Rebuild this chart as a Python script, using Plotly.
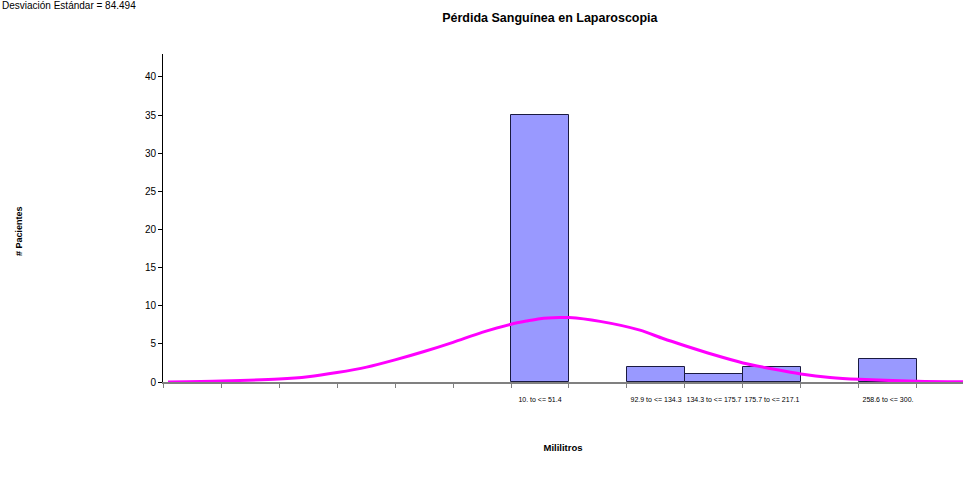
import plotly.graph_objects as go

# Histogram bins (mL) and patient counts
bin_left = [10.0, 51.4, 92.9, 134.3, 175.7, 217.1, 258.6]
bin_width = 41.43
counts = [35, 0, 2, 1, 2, 0, 3]
bin_labels = ["10. to <= 51.4", "", "92.9 to <= 134.3", "134.3 to <= 175.7",
              "175.7 to <= 217.1", "", "258.6 to <= 300."]

# Fitted normal curve (mL, patients)
curve_x = [-235.0, -196.6, -155.7, -135.0, -114.3, -93.1, -72.9, -52.1, -31.4,
           -10.7, 10.0, 21.4, 30.7, 45.0, 51.4, 73.6, 102.1, 118.6, 134.3,
           154.3, 175.7, 197.1, 217.1, 237.9, 258.6, 300.0, 332.9]
curve_y = [0.0, 0.13, 0.4, 0.7, 1.24, 1.95, 2.9, 4.0, 5.2,
           6.5, 7.57, 8.0, 8.3, 8.45, 8.45, 7.95, 6.8, 5.7, 4.75,
           3.6, 2.5, 1.7, 1.06, 0.6, 0.35, 0.1, 0.03]

y_ticks = [0, 5, 10, 15, 20, 25, 30, 35, 40]

# only non-empty bins get a bar
bar_x = [b + bin_width / 2 for b, c in zip(bin_left, counts) if c > 0]
bar_y = [c for c in counts if c > 0]
lab_vals = [b + bin_width / 2 for b, t in zip(bin_left, bin_labels) if t]
lab_text = [t for t in bin_labels if t]

fig = go.Figure()
fig.add_trace(go.Bar(
    x=bar_x, y=bar_y, width=bin_width,
    marker=dict(color="#9999FF", line=dict(color="#1a1a40", width=1)),
    hoverinfo="x+y",
))
fig.add_trace(go.Scatter(
    x=curve_x, y=curve_y, mode="lines",
    line=dict(color="#FF00FF", width=3, shape="spline", smoothing=0.8),
))

fig.update_layout(
    width=963, height=484,
    margin=dict(l=163, r=0, t=54, b=102),
    paper_bgcolor="white", plot_bgcolor="white",
    showlegend=False,
    font=dict(family="Liberation Sans, Arial", color="black", size=10),
    title=dict(text="<b>Pérdida Sanguínea en Laparoscopia</b>",
               x=0.571, xanchor="center", y=0.963, yanchor="middle",
               font=dict(size=12.5)),
    bargap=0,
)
fig.update_xaxes(
    range=[-238.6, 332.9], automargin=False,
    tickvals=lab_vals, ticktext=lab_text,
    tickfont=dict(size=7, color="black"), ticks="outside", ticklen=10,
    tickcolor="rgba(0,0,0,0)",
    minor=dict(tick0=10.0, dtick=bin_width, ticks="outside", ticklen=4,
               tickcolor="#808080", showgrid=False),
    showline=True, linecolor="#808080", linewidth=2,
    showgrid=False, zeroline=False,
    title=dict(text="<b>Mililitros</b>", font=dict(size=9.5), standoff=42),
)
fig.update_yaxes(
    range=[0, 43], tickvals=y_ticks, automargin=False,
    ticks="outside", ticklen=4, tickcolor="black",
    showline=True, linecolor="black", linewidth=1,
    showgrid=False, zeroline=False,
)
fig.add_annotation(
    text="<b># Pacientes</b>", textangle=-90,
    xref="paper", yref="paper", x=-0.18, y=0.46,
    xanchor="center", yanchor="middle", showarrow=False,
    font=dict(size=9),
)
fig.add_annotation(
    text="Desviación Estándar = 84.494",
    xref="paper", yref="paper", x=-0.2038, y=1.149,
    xanchor="left", yanchor="middle", showarrow=False,
    font=dict(size=10),
)

fig.write_html("out.html", config={"displayModeBar": False},
               post_script="document.body.style.margin='0px';")
